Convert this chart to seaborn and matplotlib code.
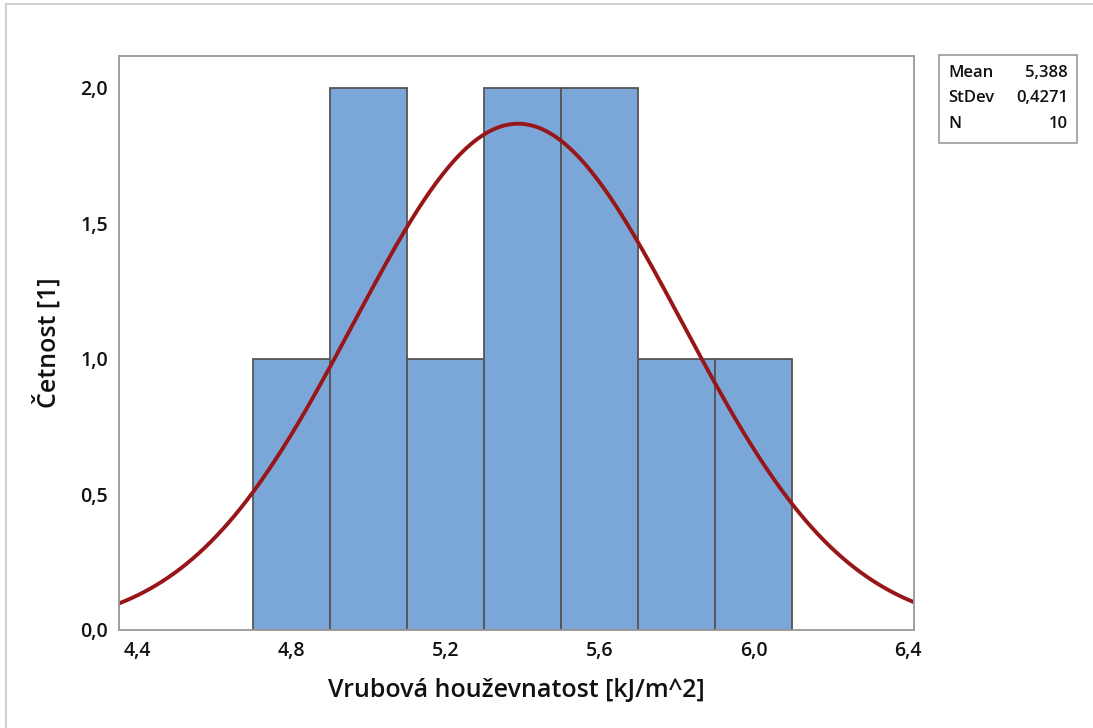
import numpy as np
import pandas as pd
import matplotlib
matplotlib.use("Agg")
import matplotlib.pyplot as plt
import seaborn as sns
from matplotlib.lines import Line2D
from matplotlib.patches import Rectangle

# ---- data ----
bin_edges = [4.7, 4.9, 5.1, 5.3, 5.5, 5.7, 5.9, 6.1]
counts = [1, 2, 1, 2, 2, 1, 1]
mean = 5.388
stdev = 0.4271
n = 10
x_ticks = [4.4, 4.8, 5.2, 5.6, 6.0, 6.4]
y_ticks = [0.0, 0.5, 1.0, 1.5, 2.0]
x_label = "Vrubová houževnatost [kJ/m^2]"
y_label = "Četnost [1]"
stat_names = ["Mean", "StDev", "N"]
stat_values = ["5,388", "0,4271", "10"]

sns.set_theme(style="white")
plt.rcParams['font.family'] = ['Open Sans', 'DejaVu Sans']

fig = plt.figure(figsize=(10.93, 7.28), dpi=100)
ax = fig.add_axes([119/1093, 1-630/728, (914-119)/1093, (630-56)/728])

centers = [(a + b) / 2 for a, b in zip(bin_edges[:-1], bin_edges[1:])]
df = pd.DataFrame({"x": centers, "w": counts})
sns.histplot(data=df, x="x", weights="w", bins=bin_edges, ax=ax,
             color="#7BA7D8", edgecolor="#555555", linewidth=1.3, alpha=1.0)

xmin, xmax = 4.351, 6.417
xs = np.linspace(xmin, xmax, 400)
width = bin_edges[1] - bin_edges[0]
ys = n * width * np.exp(-0.5 * ((xs - mean) / stdev) ** 2) / (stdev * np.sqrt(2 * np.pi))
sns.lineplot(x=xs, y=ys, ax=ax, color="#991618", linewidth=2.8)

ax.set_xlim(xmin, xmax)
ax.set_ylim(0, 2.118)
ax.set_xticks(x_ticks)
ax.set_yticks(y_ticks)
ax.set_xticklabels([f"{v:.1f}".replace(".", ",") for v in x_ticks])
ax.set_yticklabels([f"{v:.1f}".replace(".", ",") for v in y_ticks])
ax.tick_params(axis="both", which="both", direction="out", length=4, width=1,
               color="#999999", labelsize=14, labelcolor="#111111", pad=4)
for lab in ax.get_xticklabels() + ax.get_yticklabels():
    lab.set_fontweight("semibold")
for s in ax.spines.values():
    s.set_color("#999999")
    s.set_linewidth(1.3)
ax.set_xlabel("")
ax.set_ylabel("")

fig.text(516/1093, 1-690/728, x_label, ha="center", va="center",
         fontsize=18, fontweight="semibold", color="#111111")
fig.text(47/1093, 1-343/728, y_label, ha="center", va="center", rotation=90,
         fontsize=18, fontweight="semibold", color="#111111")

# stats box
fig.patches.append(Rectangle((939/1093, 1-143/728), (1077-939)/1093, (143-55)/728,
                             transform=fig.transFigure, fill=False,
                             edgecolor="#999999", linewidth=1.2))
for i, (nm, val) in enumerate(zip(stat_names, stat_values)):
    yy = 1 - (73 + i * 25.5) / 728
    fig.text(948/1093, yy, nm, ha="left", va="center", fontsize=12,
             fontweight="semibold", color="#111111")
    fig.text(1068/1093, yy, val, ha="right", va="center", fontsize=12,
             fontweight="semibold", color="#111111")

# outer border (top and left visible)
fig.add_artist(Line2D([6/1093, 1], [1-4/728, 1-4/728], transform=fig.transFigure,
                      color="#d0d0d0", linewidth=1.5))
fig.add_artist(Line2D([6/1093, 6/1093], [0, 1-4/728], transform=fig.transFigure,
                      color="#d0d0d0", linewidth=1.5))

fig.savefig("out.png", dpi=100, facecolor="white")
